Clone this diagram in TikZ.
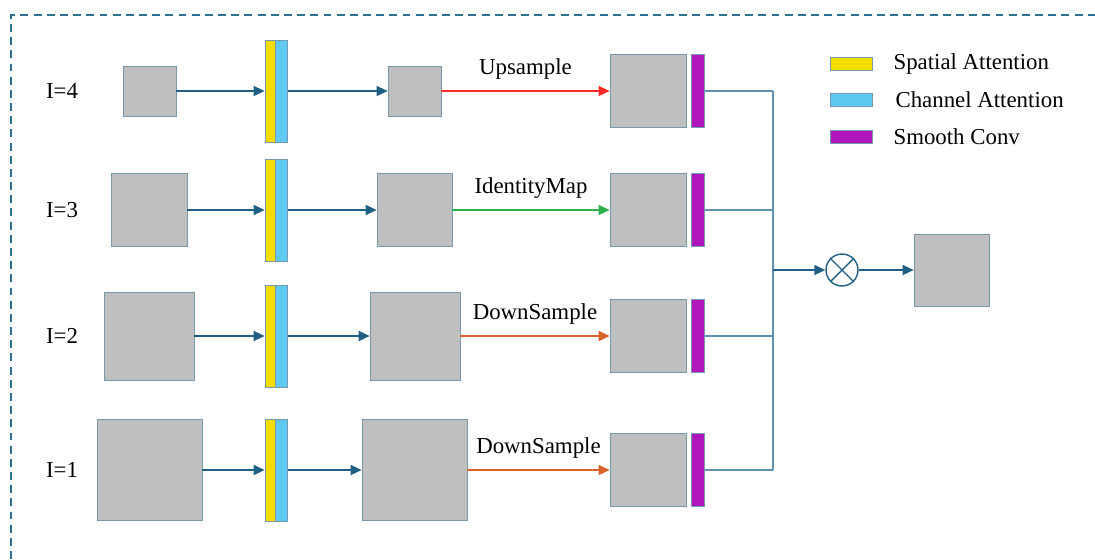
\documentclass[tikz,border=0pt]{standalone}
\usepackage{fontspec}
\setmainfont{Liberation Serif}
\usetikzlibrary{arrows.meta,positioning}
\definecolor{boxgray}{HTML}{BFBFBF}
\definecolor{boxline}{HTML}{7898AC}
\definecolor{flowblue}{HTML}{1F5F86}
\definecolor{joinblue}{HTML}{5E92B2}
\definecolor{spatyellow}{HTML}{F5DC00}
\definecolor{chancyan}{HTML}{5FC9F2}
\definecolor{convpurple}{HTML}{B016BE}
\definecolor{downorange}{HTML}{D9622B}
\definecolor{upred}{HTML}{FF2A2A}
\definecolor{idgreen}{HTML}{2DB04B}
\definecolor{framecol}{HTML}{2F7096}

\begin{document}
\begin{tikzpicture}
 [
  x=0.02cm, y=-0.02cm,
  font=\fontsize{13}{15}\selectfont,
  fmap/.style 2 args={draw=boxline,fill=boxgray,inner sep=0pt,minimum width=#1cm,minimum height=#2cm},
  spat/.style={draw=boxline,fill=spatyellow,inner sep=0pt,minimum width=0.2cm,minimum height=2.04cm},
  chan/.style={draw=boxline,fill=chancyan,inner sep=0pt,minimum width=0.24cm,minimum height=2.04cm},
  smooth/.style={draw=boxline,fill=convpurple,inner sep=0pt,minimum width=0.26cm,minimum height=1.46cm},
  swatch/.style={draw=boxline,fill=#1,inner sep=0pt,minimum width=0.84cm,minimum height=0.26cm},
  flow/.style={draw=flowblue,thick,-{Triangle[length=2.2mm,width=2mm]}},
  merge/.style={draw=joinblue,thick},
  lbl/.style={midway,above=0.22cm,inner sep=0pt},
 ]
  \useasboundingbox (0,0) rectangle (1095,559);
  \draw[draw=framecol,line width=0.7pt,dash pattern=on 4.5pt off 3pt] (11,559) -- (11,15) -- (1095,15);

  % level labels
  \node (l4) at (62,91) {I=4};
  \node (l3) at (62,210) {I=3};
  \node (l2) at (62,336) {I=2};
  \node (l1) at (62,470) {I=1};

  % input maps
  \node [fmap={1.06}{1.0}]  (a4) at (149.5,91) {};
  \node [fmap={1.52}{1.46}] (a3) at (149,210) {};
  \node [fmap={1.8}{1.76}]  (a2) at (149,336) {};
  \node [fmap={2.1}{2.02}]  (a1) at (149.5,470) {};

  % attention blocks
  \node [spat] (s4) at (270,91) {};
  \node [spat] (s3) at (270,210) {};
  \node [spat] (s2) at (270,336) {};
  \node [spat] (s1) at (270,470) {};
  \node [chan,right=0pt of s4] (c4) {};
  \node [chan,right=0pt of s3] (c3) {};
  \node [chan,right=0pt of s2] (c2) {};
  \node [chan,right=0pt of s1] (c1) {};

  % refined maps
  \node [fmap={1.06}{1.0}]  (m4) at (414.5,91) {};
  \node [fmap={1.5}{1.46}]  (m3) at (414.5,210) {};
  \node [fmap={1.8}{1.76}]  (m2) at (415,336) {};
  \node [fmap={2.1}{2.02}]  (m1) at (414.5,470) {};

  % resized maps + smooth conv
  \node [fmap={1.52}{1.46}] (r4) at (648,91) {};
  \node [fmap={1.52}{1.46}] (r3) at (648,210) {};
  \node [fmap={1.52}{1.46}] (r2) at (648,336) {};
  \node [fmap={1.52}{1.46}] (r1) at (648,470) {};
  \node [smooth,right=0.1cm of r4] (p4) {};
  \node [smooth,right=0.1cm of r3] (p3) {};
  \node [smooth,right=0.1cm of r2] (p2) {};
  \node [smooth,right=0.1cm of r1] (p1) {};

  \coordinate (j4) at (773,91);
  \coordinate (j3) at (773,210);
  \coordinate (j2) at (773,336);
  \coordinate (j1) at (773,470);
  \coordinate (jm) at (773,270);

  \node [draw=flowblue,thick,circle,inner sep=0pt,minimum size=0.64cm] (mul) at (842,270) {};
  \draw[flowblue,thick] (mul.north west) -- (mul.south east);
  \draw[flowblue,thick] (mul.north east) -- (mul.south west);
  \node [fmap={1.5}{1.44}] (out) at (951.5,270) {};

  \draw[flow] (a4) -- (s4);
  \draw[flow] (a3) -- (s3);
  \draw[flow] (a2) -- (s2);
  \draw[flow] (a1) -- (s1);
  \draw[flow] (c4) -- (m4);
  \draw[flow] (c3) -- (m3);
  \draw[flow] (c2) -- (m2);
  \draw[flow] (c1) -- (m1);

  \draw[flow,draw=upred] (m4) -- (r4) node[lbl] {Upsample};
  \draw[flow,draw=idgreen] (m3) -- (r3) node[lbl] {IdentityMap};
  \draw[flow,draw=downorange] (m2) -- (r2) node[lbl] {DownSample};
  \draw[flow,draw=downorange] (m1) -- (r1) node[lbl] {DownSample};

  \draw[merge] (p4) -- (j4);
  \draw[merge] (p3) -- (j3);
  \draw[merge] (p2) -- (j2);
  \draw[merge] (p1) -- (j1);
  \draw[merge] (j4) -- (j1);
  \draw[flow] (jm) -- (mul);
  \draw[flow] (mul) -- (out);

  % legend
  \node [swatch=spatyellow] (k1) at (851,64) {};
  \node [swatch=chancyan]   (k2) at (851,100) {};
  \node [swatch=convpurple] (k3) at (851,137) {};
  \node [right=0.3cm of k1] (t1) {Spatial Attention};
  \node [right=0.34cm of k2] (t2) {Channel Attention};
  \node [right=0.3cm of k3] (t3) {Smooth Conv};
\end{tikzpicture}
\end{document}
